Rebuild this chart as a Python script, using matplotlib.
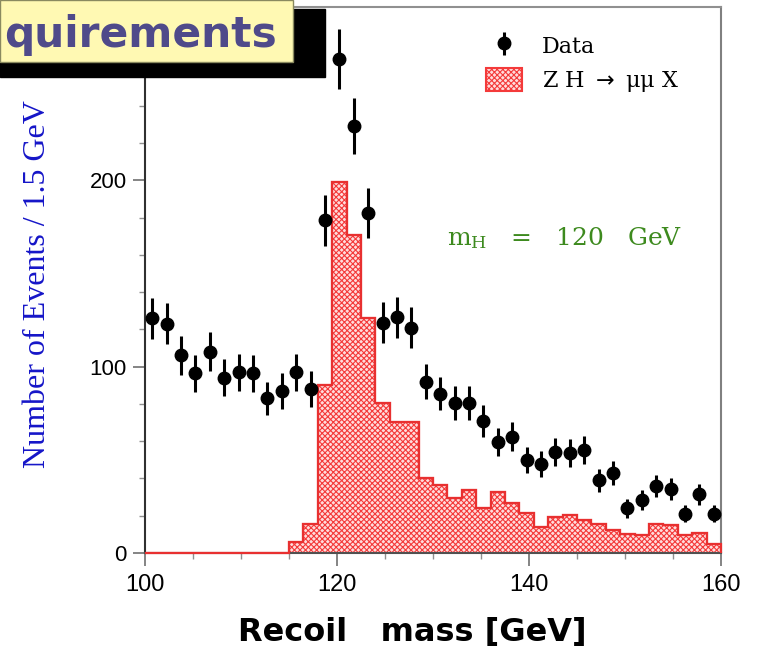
import numpy as np
import matplotlib as mpl
import matplotlib.pyplot as plt
from matplotlib.patches import Rectangle

mpl.rcParams["hatch.linewidth"] = 0.8

# recoil mass binning, 1.5 GeV per bin
bin_lo = 100
bin_hi = 160
bin_w = 1.5

data_counts = [126, 123, 106, 96.5, 108, 94, 97, 96.5, 83, 87,
               97, 88, 178.5, 265, 229, 182.5, 123.5, 126.5, 121, 92,
               85.5, 80.5, 80.5, 71, 59.5, 62.5, 50, 48, 54, 53.5,
               55.5, 39, 43, 24, 28.5, 36, 34.5, 21, 31.5, 21]
data_err = [11, 11, 10.5, 10, 10.5, 10, 10, 10, 9, 9.5,
            10, 9.5, 13.5, 16, 15, 13.5, 11, 11, 11, 9.5,
            9, 9, 9, 8.5, 7.5, 8, 7, 7, 7.5, 7.5,
            7.5, 6, 6.5, 5, 5.5, 6, 6, 4.5, 5.5, 4.5]
signal_counts = [0, 0, 0, 0, 0, 0, 0, 0, 0, 0,
                 5.9, 15.8, 90, 199, 170.5, 126, 80.5, 70.5, 70.5, 40.5,
                 36.5, 29.3, 33.8, 23.9, 32.9, 26.6, 21.2, 14.0, 19.4, 20.3,
                 17.6, 15.8, 12.2, 10.4, 9.5, 15.8, 14.9, 9.5, 10.8, 5.0]

edges = np.arange(bin_lo, bin_hi + bin_w / 2, bin_w)
centers = edges[:-1] + bin_w / 2

W, H = 764, 658
fig = plt.figure(figsize=(W / 100, H / 100), dpi=100)
ax = fig.add_axes([145 / W, 105 / H, 576 / W, 546 / H])

sig = ax.stairs(signal_counts, edges, fill=True, facecolor="#ffdcdc",
                edgecolor="#f43a3a", hatch="xxxxxx", linewidth=1.5,
                label=r"Z H $\rightarrow$ $\mathregular{\mu\mu}$ X")
# outline along the empty bins as well, drawn over the axis line
ax.stairs(signal_counts, edges, color="#e83030", linewidth=1.6, zorder=3,
          clip_on=False)
dat = ax.errorbar(centers, data_counts, yerr=data_err, fmt="o", color="black",
                  markersize=9, elinewidth=2.2, capsize=0, label="Data", zorder=5)

ax.set_xlim(bin_lo, bin_hi)
ax.set_ylim(0, 293)
ax.set_xticks([100, 120, 140, 160])
ax.set_xticks(np.arange(100, 161, 5), minor=True)
ax.set_yticks([0, 100, 200])
ax.set_yticks(np.arange(0, 290, 20), minor=True)
ax.tick_params(which="major", direction="out", length=9, width=1.2, color="#707070")
ax.tick_params(which="minor", direction="out", length=4, width=1.0, color="#909090")
ax.tick_params(axis="x", labelsize=17, pad=6)
ax.tick_params(axis="y", labelsize=16, pad=4)
for lab in ax.get_xticklabels() + ax.get_yticklabels():
    lab.set_family("Liberation Sans")

ax.spines["left"].set_color("#303030")
ax.spines["bottom"].set_color("#505050")
ax.spines["top"].set_color("#909090")
ax.spines["right"].set_color("#808080")
for s in ax.spines.values():
    s.set_linewidth(1.5)

fig.text(38 / W, (H - 284) / H, "Number of Events / 1.5 GeV", rotation=90,
         ha="center", va="center", color="#1515c8", family="Liberation Serif",
         fontsize=23)
fig.text(412 / W, (H - 632) / H, "Recoil   mass [GeV]", ha="center", va="center",
         fontweight="bold", family="DejaVu Sans", fontsize=23)
fig.text(447 / W, (H - 245) / H, r"$\mathregular{m_H}$   =   120   GeV", ha="left",
         va="baseline", color="#3d8a1e", family="DejaVu Serif", fontsize=18)

ax.legend(handles=[dat, sig], loc="upper left",
          bbox_to_anchor=(466 / W, (H - 14) / H),
          bbox_transform=fig.transFigure, frameon=False,
          prop={"family": "DejaVu Serif", "size": 16},
          handlelength=1.6, handleheight=1.2, labelspacing=0.45,
          handletextpad=0.9)

# slide title box in the top-left corner
fig.patches.append(Rectangle((0, (H - 77) / H), 325 / W, 68 / H,
                             transform=fig.transFigure, color="black", zorder=10))
fig.patches.append(Rectangle((0, (H - 62) / H), 293 / W, 62 / H,
                             transform=fig.transFigure, facecolor="#fff9b3",
                             edgecolor="#8a8a60", linewidth=1, zorder=11))
fig.text(4 / W, (H - 47) / H, "quirements", ha="left", va="baseline",
         color="#4f4a8a", fontweight="bold", family="DejaVu Sans", fontsize=30.5,
         zorder=12)

fig.savefig("out.png", dpi=100)
